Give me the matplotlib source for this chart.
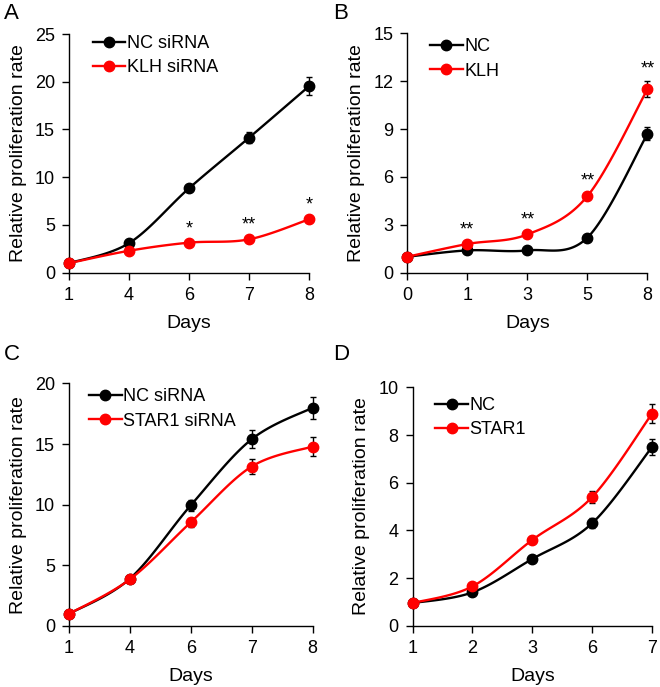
import numpy as np
import matplotlib
matplotlib.use("Agg")
import matplotlib.pyplot as plt

plt.rcParams['font.family'] = ['Liberation Sans', 'DejaVu Sans']

# panel A
a_days = ['1', '4', '6', '7', '8']
a_nc = [1.0, 3.1, 8.85, 14.15, 19.55]
a_nc_err = [0.0, 0.15, 0.3, 0.6, 0.9]
a_klh = [1.0, 2.3, 3.15, 3.5, 5.6]
a_klh_err = [0.0, 0.1, 0.15, 0.15, 0.2]
a_stars = ['', '', '*', '**', '*']

# panel B
b_days = ['0', '1', '3', '5', '8']
b_nc = [1.0, 1.4, 1.4, 2.2, 8.7]
b_nc_err = [0.0, 0.05, 0.05, 0.1, 0.4]
b_klh = [1.0, 1.8, 2.4, 4.8, 11.5]
b_klh_err = [0.0, 0.1, 0.1, 0.15, 0.5]
b_stars = ['', '**', '**', '**', '**']

# panel C
c_days = ['1', '4', '6', '7', '8']
c_nc = [1.0, 3.9, 9.95, 15.4, 18.0]
c_nc_err = [0.0, 0.1, 0.45, 0.75, 0.9]
c_star = [1.0, 3.85, 8.55, 13.15, 14.8]
c_star_err = [0.0, 0.1, 0.35, 0.65, 0.75]

# panel D
d_days = ['1', '2', '3', '6', '7']
d_nc = [0.95, 1.4, 2.8, 4.3, 7.5]
d_nc_err = [0.0, 0.05, 0.1, 0.2, 0.35]
d_star = [0.95, 1.65, 3.6, 5.4, 8.9]
d_star_err = [0.0, 0.05, 0.15, 0.25, 0.4]


def smooth(ax, xs, ys, n=30):
    # excel-like smoothed line, worked out in screen space
    pts = ax.transData.transform(np.column_stack([xs, ys]))
    out = [pts[0]]
    for i in range(len(pts) - 1):
        p0 = pts[max(i - 1, 0)]
        p1 = pts[i]
        p2 = pts[i + 1]
        p3 = pts[min(i + 2, len(pts) - 1)]
        c1 = p1 + (p2 - p0) / 6.0
        c2 = p2 - (p3 - p1) / 6.0
        t = np.linspace(0, 1, n)[1:, None]
        seg = ((1 - t) ** 3) * p1 + 3 * ((1 - t) ** 2) * t * c1 + 3 * (1 - t) * t ** 2 * c2 + t ** 3 * p2
        out.extend(seg)
    return ax.transData.inverted().transform(np.array(out))


def panel(ax, days, s1, e1, s2, e2, names, ymax, ystep, leg_xy, stars=None):
    x = np.arange(len(days))
    ax.set_xlim(0, len(days) - 1)
    ax.set_ylim(0, ymax)
    ax.set_yticks(np.arange(0, ymax + 0.01, ystep))
    ax.set_xticks(x)
    ax.set_xticklabels(days)
    for s, e, col, nm, z in [(s1, e1, 'black', names[0], 3), (s2, e2, '#ff0000', names[1], 4)]:
        xy = smooth(ax, x, s)
        ax.plot(xy[:, 0], xy[:, 1], color=col, lw=1.7, zorder=z, clip_on=False)
        ax.errorbar(x, s, yerr=e, fmt='none', ecolor='black', elinewidth=1, capsize=2.5, capthick=1, zorder=z, clip_on=False)
        ax.plot(x, s, 'o', color=col, ms=7.5, zorder=z + 0.5, clip_on=False)
        ax.plot([], [], '-o', color=col, lw=1.7, ms=7.5, label=nm)
    if stars:
        for i, st in enumerate(stars):
            if st:
                ax.annotate(st, (x[i], s2[i] + e2[i]), xytext=(0, 3), textcoords='offset points',
                            ha='center', va='bottom', fontsize=13)
    for sp in ['top', 'right']:
        ax.spines[sp].set_visible(False)
    for sp in ['left', 'bottom']:
        ax.spines[sp].set_linewidth(1.0)
    ax.tick_params(direction='out', length=5, width=1, labelsize=13, pad=5)
    ax.set_xlabel('Days', fontsize=14, labelpad=8)
    ax.set_ylabel('Relative proliferation rate', fontsize=14, labelpad=6)
    ax.legend(loc='center left', bbox_to_anchor=leg_xy, frameon=False, fontsize=13,
              handlelength=1.8, handletextpad=0.1, labelspacing=0.4, borderaxespad=0, borderpad=0)


fig = plt.figure(figsize=(6.6, 6.87), dpi=100)
axA = fig.add_axes([0.1045, 0.603, 0.364, 0.3475])
axB = fig.add_axes([0.617, 0.603, 0.364, 0.3485])
axC = fig.add_axes([0.1045, 0.0888, 0.369, 0.353])
axD = fig.add_axes([0.625, 0.0892, 0.363, 0.347])

panel(axA, a_days, a_nc, a_nc_err, a_klh, a_klh_err, ['NC siRNA', 'KLH siRNA'], 25, 5, (0.1, 0.91), a_stars)
panel(axB, b_days, b_nc, b_nc_err, b_klh, b_klh_err, ['NC', 'KLH'], 15, 3, (0.095, 0.893), b_stars)
panel(axC, c_days, c_nc, c_nc_err, c_star, c_star_err, ['NC siRNA', 'STAR1 siRNA'], 20, 5, (0.083, 0.895))
panel(axD, d_days, d_nc, d_nc_err, d_star, d_star_err, ['NC', 'STAR1'], 10, 2, (0.095, 0.872))

for lab, px, py in [('A', 4, 3), ('B', 333, 3), ('C', 4, 344), ('D', 333, 344)]:
    fig.text(px / 660, 1 - py / 687, lab, fontsize=16, ha='left', va='top')

fig.savefig('out.png', dpi=100)
